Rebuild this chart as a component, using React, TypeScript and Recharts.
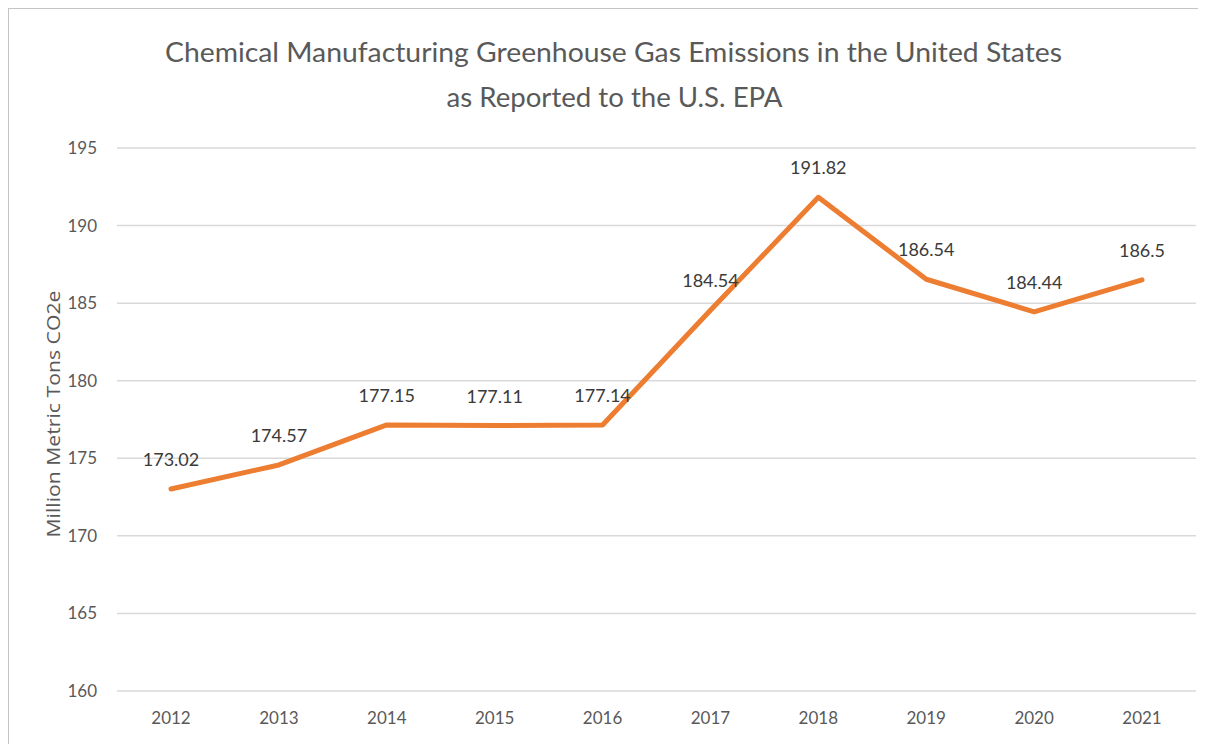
import React from "react";
import { LineChart, Line, XAxis, YAxis, CartesianGrid, LabelList } from "recharts";

const years = ["2012", "2013", "2014", "2015", "2016", "2017", "2018", "2019", "2020", "2021"];
const emissions = [173.02, 174.57, 177.15, 177.11, 177.14, 184.54, 191.82, 186.54, 184.44, 186.5];
const yTicks = [160, 165, 170, 175, 180, 185, 190, 195];

const titleLines = [
  "Chemical Manufacturing Greenhouse Gas Emissions in the United States",
  "as Reported to the U.S. EPA",
];
const yLabel = "Million Metric Tons CO2e";

const data = years.map((year, i) => ({ year, value: emissions[i] }));

const FONT = "Lato, 'Open Sans', sans-serif";
const GREY = "#595959";

export default function App() {
  return (
    <div
      style={{
        position: "relative",
        width: 1197,
        height: 735,
        borderTop: "1px solid #c4c4c4",
        borderLeft: "1px solid #c4c4c4",
        background: "#fff",
      }}
    >
      <LineChart width={1197} height={735} data={data} margin={{ top: 139, right: 10, bottom: 23, left: 0 }}>
        <text x={604.5} y={52.5} textAnchor="middle" fill={GREY} fontSize={27} fontFamily={FONT} textLength={897} lengthAdjust="spacingAndGlyphs">
          {titleLines[0]}
        </text>
        <text x={605.5} y={97.5} textAnchor="middle" fill={GREY} fontSize={27} fontFamily={FONT} textLength={336} lengthAdjust="spacingAndGlyphs">
          {titleLines[1]}
        </text>
        <text
          x={0}
          y={0}
          transform="translate(51,405) rotate(-90)"
          textAnchor="middle"
          fill={GREY}
          fontSize={18}
          fontFamily="'Open Sans', sans-serif"
          textLength={247}
          lengthAdjust="spacingAndGlyphs"
        >
          {yLabel}
        </text>
        <CartesianGrid vertical={false} stroke="#d9d9d9" strokeWidth={1.5} />
        <XAxis
          dataKey="year"
          axisLine={false}
          tickLine={false}
          tickSize={0}
          tickMargin={21}
          height={30}
          padding={{ left: 54, right: 54 }}
          tick={{ fill: GREY, fontSize: 17, fontFamily: FONT }}
        />
        <YAxis
          domain={[160, 195]}
          ticks={yTicks}
          axisLine={false}
          tickLine={false}
          tickSize={0}
          tickMargin={20}
          width={108}
          tick={{ fill: GREY, fontSize: 17, fontFamily: FONT }}
        />
        <Line
          type="linear"
          dataKey="value"
          stroke="#ED7D31"
          strokeWidth={5}
          strokeLinecap="round"
          strokeLinejoin="round"
          dot={false}
          isAnimationActive={false}
        >
          <LabelList dataKey="value" position="top" offset={23} fill="#3a3a3a" fontSize={18} fontFamily={FONT} />
        </Line>
      </LineChart>
    </div>
  );
}
